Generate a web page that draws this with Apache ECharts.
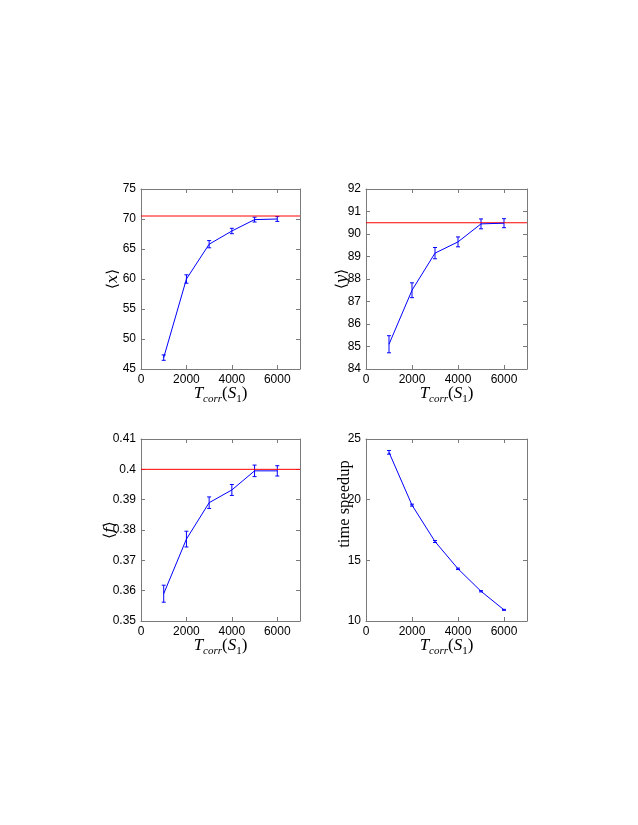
<!DOCTYPE html>
<html>
<head>
<meta charset="utf-8">
<script src="https://cdn.jsdelivr.net/npm/echarts@6/dist/echarts.min.js"></script>
<style>
html,body{margin:0;padding:0;background:#fff;}
#chart{width:638px;height:825px;}
</style>
</head>
<body>
<div id="chart"></div>
<script>
// ---- data ----
const tcorr = [1000, 2000, 3000, 4000, 5000, 6000];
const meanX = [46.9, 60.0, 65.8, 68.0, 69.9, 70.0];
const errX = [0.45, 0.7, 0.6, 0.45, 0.4, 0.4];
const refX = 70.5;
const meanY = [85.1, 87.5, 89.15, 89.65, 90.45, 90.48];
const errY = [0.38, 0.33, 0.25, 0.22, 0.22, 0.2];
const refY = 90.5;
const meanF = [0.359, 0.377, 0.389, 0.3932, 0.3995, 0.3995];
const errF = [0.0028, 0.0026, 0.0019, 0.0018, 0.0019, 0.0017];
const refF = 0.4;
const speedup = [23.9, 19.55, 16.55, 14.3, 12.45, 10.92];
const errS = [0.15, 0.08, 0.08, 0.06, 0.05, 0.04];
const xRange = [0, 7000, 2000];
const yRanges = [[45, 75, 5], [84, 92, 1], [0.35, 0.41, 0.01], [10, 25, 5]];

const chart = echarts.init(document.getElementById('chart'));
const axisColor = '#7a7a7a';
const grids = [
  {left: 141, top: 189, width: 159, height: 180},
  {left: 366, top: 189, width: 161, height: 180},
  {left: 141, top: 439, width: 159, height: 182},
  {left: 366, top: 439, width: 161, height: 182}
];
const serif = 'Liberation Serif';
const xNameRich = {
  it: {fontFamily: serif, fontStyle: 'italic', fontSize: 17, color: '#000', verticalAlign: 'middle', lineHeight: 22},
  n: {fontFamily: serif, fontSize: 17, color: '#000', verticalAlign: 'middle', lineHeight: 22},
  sub: {fontFamily: serif, fontStyle: 'italic', fontSize: 11, color: '#000', verticalAlign: 'bottom', lineHeight: 22},
  subn: {fontFamily: serif, fontSize: 11, color: '#000', verticalAlign: 'bottom', lineHeight: 22}
};
const xName = '{it|T}{sub|corr}{n|(}{it|S}{subn|1}{n|)}';
const yNames = [
  '{n|⟨}{it|x}{n|⟩}', '{n|⟨}{it|y}{n|⟩}', '{n|⟨}{it|f}{n|⟩}', '{n|time speedup}'
];
const yNameGaps = [20, 16, 23, 13];
const yRich = {
  it: {fontFamily: 'DejaVu Serif', fontStyle: 'italic', fontSize: 15, color: '#000'},
  n: {fontFamily: serif, fontSize: 16.5, color: '#000'}
};
const yRich2 = {
  it: {fontFamily: 'DejaVu Serif', fontStyle: 'italic', fontSize: 15, color: '#000'},
  n: {fontFamily: 'DejaVu Serif', fontSize: 15, color: '#000'}
};

function fmtY(v) { return String(+Number(v).toFixed(2)); }
function fmtX(v) { return String(Math.round(v)); }

const xAxes = [], yAxes = [];
for (let i = 0; i < 4; i++) {
  xAxes.push({
    gridIndex: i, type: 'value', min: xRange[0], max: xRange[1], interval: xRange[2],
    position: 'bottom',
    axisLine: {show: true, onZero: false, lineStyle: {color: axisColor, width: 1}},
    axisTick: {show: true, inside: true, length: 4, lineStyle: {color: axisColor}},
    splitLine: {show: false},
    axisLabel: {show: true, color: '#000', fontFamily: 'Liberation Sans', fontSize: 12, margin: 5, showMaxLabel: false, formatter: fmtX},
    name: xName, nameLocation: 'middle', nameGap: 14, nameMoveOverlap: false,
    nameTextStyle: {rich: xNameRich}
  });
}
for (let i = 0; i < 4; i++) {
  xAxes.push({
    gridIndex: i, type: 'value', min: xRange[0], max: xRange[1], interval: xRange[2], position: 'top',
    axisLine: {show: true, onZero: false, lineStyle: {color: axisColor, width: 1}},
    axisTick: {show: true, inside: true, length: 4, lineStyle: {color: axisColor}},
    axisLabel: {show: false}, splitLine: {show: false}
  });
}
for (let i = 0; i < 4; i++) {
  const r = yRanges[i];
  yAxes.push({
    gridIndex: i, type: 'value', min: r[0], max: r[1], interval: r[2], position: 'left',
    axisLine: {show: true, onZero: false, lineStyle: {color: axisColor, width: 1}},
    axisTick: {show: true, inside: true, length: 4, lineStyle: {color: axisColor}},
    axisLabel: {show: true, color: '#000', fontFamily: 'Liberation Sans', fontSize: 12, margin: 5, formatter: fmtY},
    splitLine: {show: false},
    name: yNames[i], nameLocation: 'middle', nameGap: yNameGaps[i], nameMoveOverlap: false,
    nameRotate: 90,
    nameTextStyle: i === 3 ? {rich: yRich, padding: [0, 0, 0, 52]} : {rich: yRich2}
  });
}
for (let i = 0; i < 4; i++) {
  const r = yRanges[i];
  yAxes.push({
    gridIndex: i, type: 'value', min: r[0], max: r[1], interval: r[2], position: 'right',
    axisLine: {show: true, onZero: false, lineStyle: {color: axisColor, width: 1}},
    axisTick: {show: true, inside: true, length: 4, lineStyle: {color: axisColor}},
    axisLabel: {show: false}, splitLine: {show: false}
  });
}

const means = [meanX, meanY, meanF, speedup];
const errs = [errX, errY, errF, errS];
const refs = [refX, refY, refF, null];

function errRender(params, api) {
  const x = api.value(0), lo = api.value(1), hi = api.value(2);
  const p1 = api.coord([x, lo]), p2 = api.coord([x, hi]);
  const cw = 2;
  const st = {stroke: '#0000ff', lineWidth: 1};
  return {
    type: 'group',
    children: [
      {type: 'line', shape: {x1: p1[0], y1: p1[1], x2: p2[0], y2: p2[1]}, style: st},
      {type: 'line', shape: {x1: p1[0] - cw, y1: p1[1], x2: p1[0] + cw, y2: p1[1]}, style: st},
      {type: 'line', shape: {x1: p2[0] - cw, y1: p2[1], x2: p2[0] + cw, y2: p2[1]}, style: st}
    ]
  };
}

const series = [];
for (let i = 0; i < 4; i++) {
  if (refs[i] !== null) {
    series.push({
      type: 'line', xAxisIndex: i, yAxisIndex: i,
      data: [[xRange[0], refs[i]], [xRange[1], refs[i]]],
      showSymbol: false, symbol: 'none', silent: true,
      lineStyle: {color: '#ff0000', width: 1},
      itemStyle: {color: '#ff0000'},
      animation: false
    });
  }
  series.push({
    type: 'line', xAxisIndex: i, yAxisIndex: i,
    data: tcorr.map((t, k) => [t, means[i][k]]),
    showSymbol: false, symbol: 'none',
    lineStyle: {color: '#0000ff', width: 1},
    itemStyle: {color: '#0000ff'},
    animation: false
  });
  series.push({
    type: 'custom', xAxisIndex: i, yAxisIndex: i,
    renderItem: errRender,
    data: tcorr.map((t, k) => [t, means[i][k] - errs[i][k], means[i][k] + errs[i][k]]),
    encode: {x: 0, y: [1, 2]},
    animation: false
  });
}

chart.setOption({
  animation: false,
  backgroundColor: '#fff',
  grid: grids,
  xAxis: xAxes,
  yAxis: yAxes,
  series: series
});
</script>
</body>
</html>
